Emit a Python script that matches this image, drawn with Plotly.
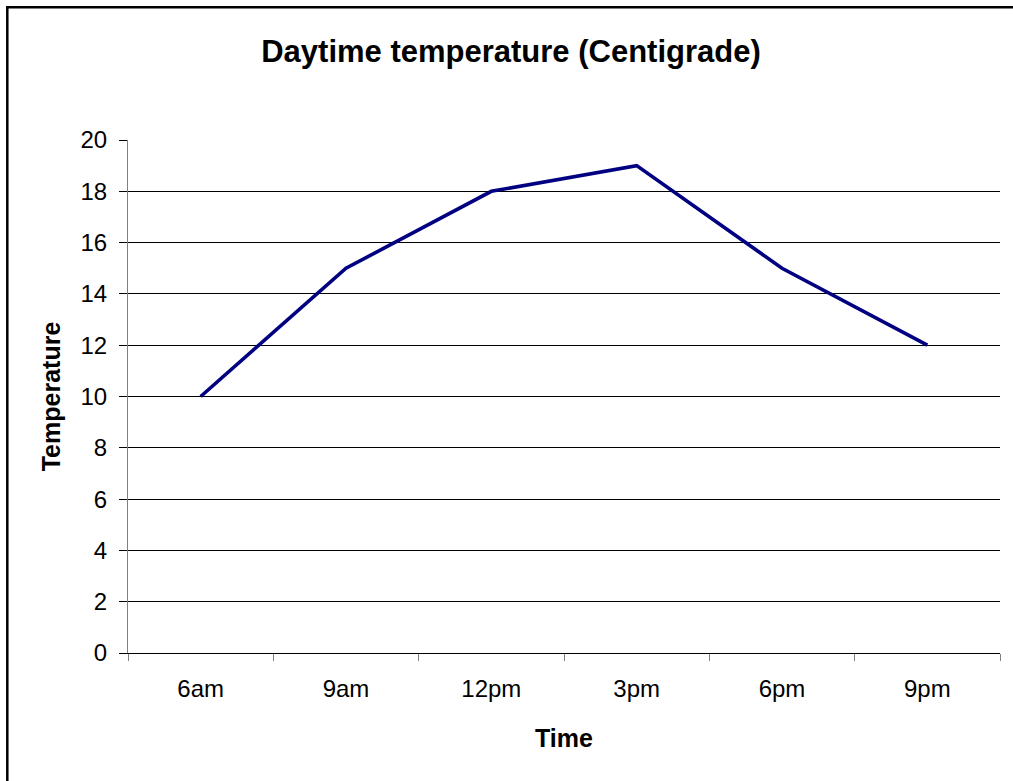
import plotly.graph_objects as go

times = ["6am", "9am", "12pm", "3pm", "6pm", "9pm"]
temperature = [10, 15, 18, 19, 15, 12]
y_ticks = [0, 2, 4, 6, 8, 10, 12, 14, 16, 18, 20]
grid_vals = [2, 4, 6, 8, 10, 12, 14, 16, 18]

FONT = "Arial, Liberation Sans, sans-serif"

W, H = 1013, 781
L, R, T, B = 128, 13, 140, 128
pw, ph = W - L - R, H - T - B

fig = go.Figure()
fig.add_trace(go.Scatter(
    x=times, y=temperature, mode="lines",
    line=dict(color="#000080", width=3.6),
    showlegend=False, hoverinfo="x+y",
))
# invisible trace on overlay axis for gridlines
fig.add_trace(go.Scatter(x=times, y=temperature, yaxis="y2", mode="lines",
                         line=dict(width=0), showlegend=False, hoverinfo="skip"))

fig.update_layout(
    width=W, height=H,
    margin=dict(l=L, r=R, t=T, b=B, autoexpand=False),
    paper_bgcolor="white", plot_bgcolor="white",
    font=dict(family=FONT, color="black"),
    title=dict(text="<b>Daytime temperature (Centigrade)</b>",
               font=dict(size=31, family=FONT, color="black"),
               x=511 / W, xanchor="center", y=1 - 51 / H, yanchor="middle"),
    xaxis=dict(
        type="category", range=[-0.5, 5.5], automargin=False,
        tickson="boundaries", ticks="outside", ticklen=7, tickcolor="#808080",
        showline=True, linecolor="black", linewidth=1,
        showgrid=False, zeroline=False, ticklabelstandoff=14,
        tickfont=dict(size=24, family=FONT, color="black"),
        title=dict(text="<b>Time</b>", font=dict(size=25, family=FONT, color="black"), standoff=28),
    ),
    yaxis=dict(
        range=[0, 20], tickvals=y_ticks, ticks="outside", ticklen=8, tickcolor="black",
        showline=True, linecolor="#808080", linewidth=1, automargin=False,
        showgrid=False, zeroline=False, ticklabelstandoff=7,
        tickfont=dict(size=24, family=FONT, color="black"),
        title=dict(text="<b>Temperature</b>", font=dict(size=25, family=FONT, color="black"), standoff=12),
    ),
    yaxis2=dict(
        range=[0, 20], overlaying="y", side="left", tickvals=grid_vals, automargin=False,
        showticklabels=False, ticks="", showgrid=True, gridcolor="black", gridwidth=1,
        zeroline=False, showline=False,
    ),
    shapes=[dict(
        type="rect", xref="paper", yref="paper",
        x0=(7.3 - L) / pw, x1=(W + 20 - L) / pw,
        y0=(H - B - (H + 20)) / ph, y1=(H - B - 7.3) / ph,
        line=dict(color="black", width=2.5), fillcolor="rgba(0,0,0,0)", layer="above",
    )],
)

fig.write_html("out.html", config={"displayModeBar": False},
               post_script="document.body.style.margin='0';document.body.style.overflow='hidden';")
